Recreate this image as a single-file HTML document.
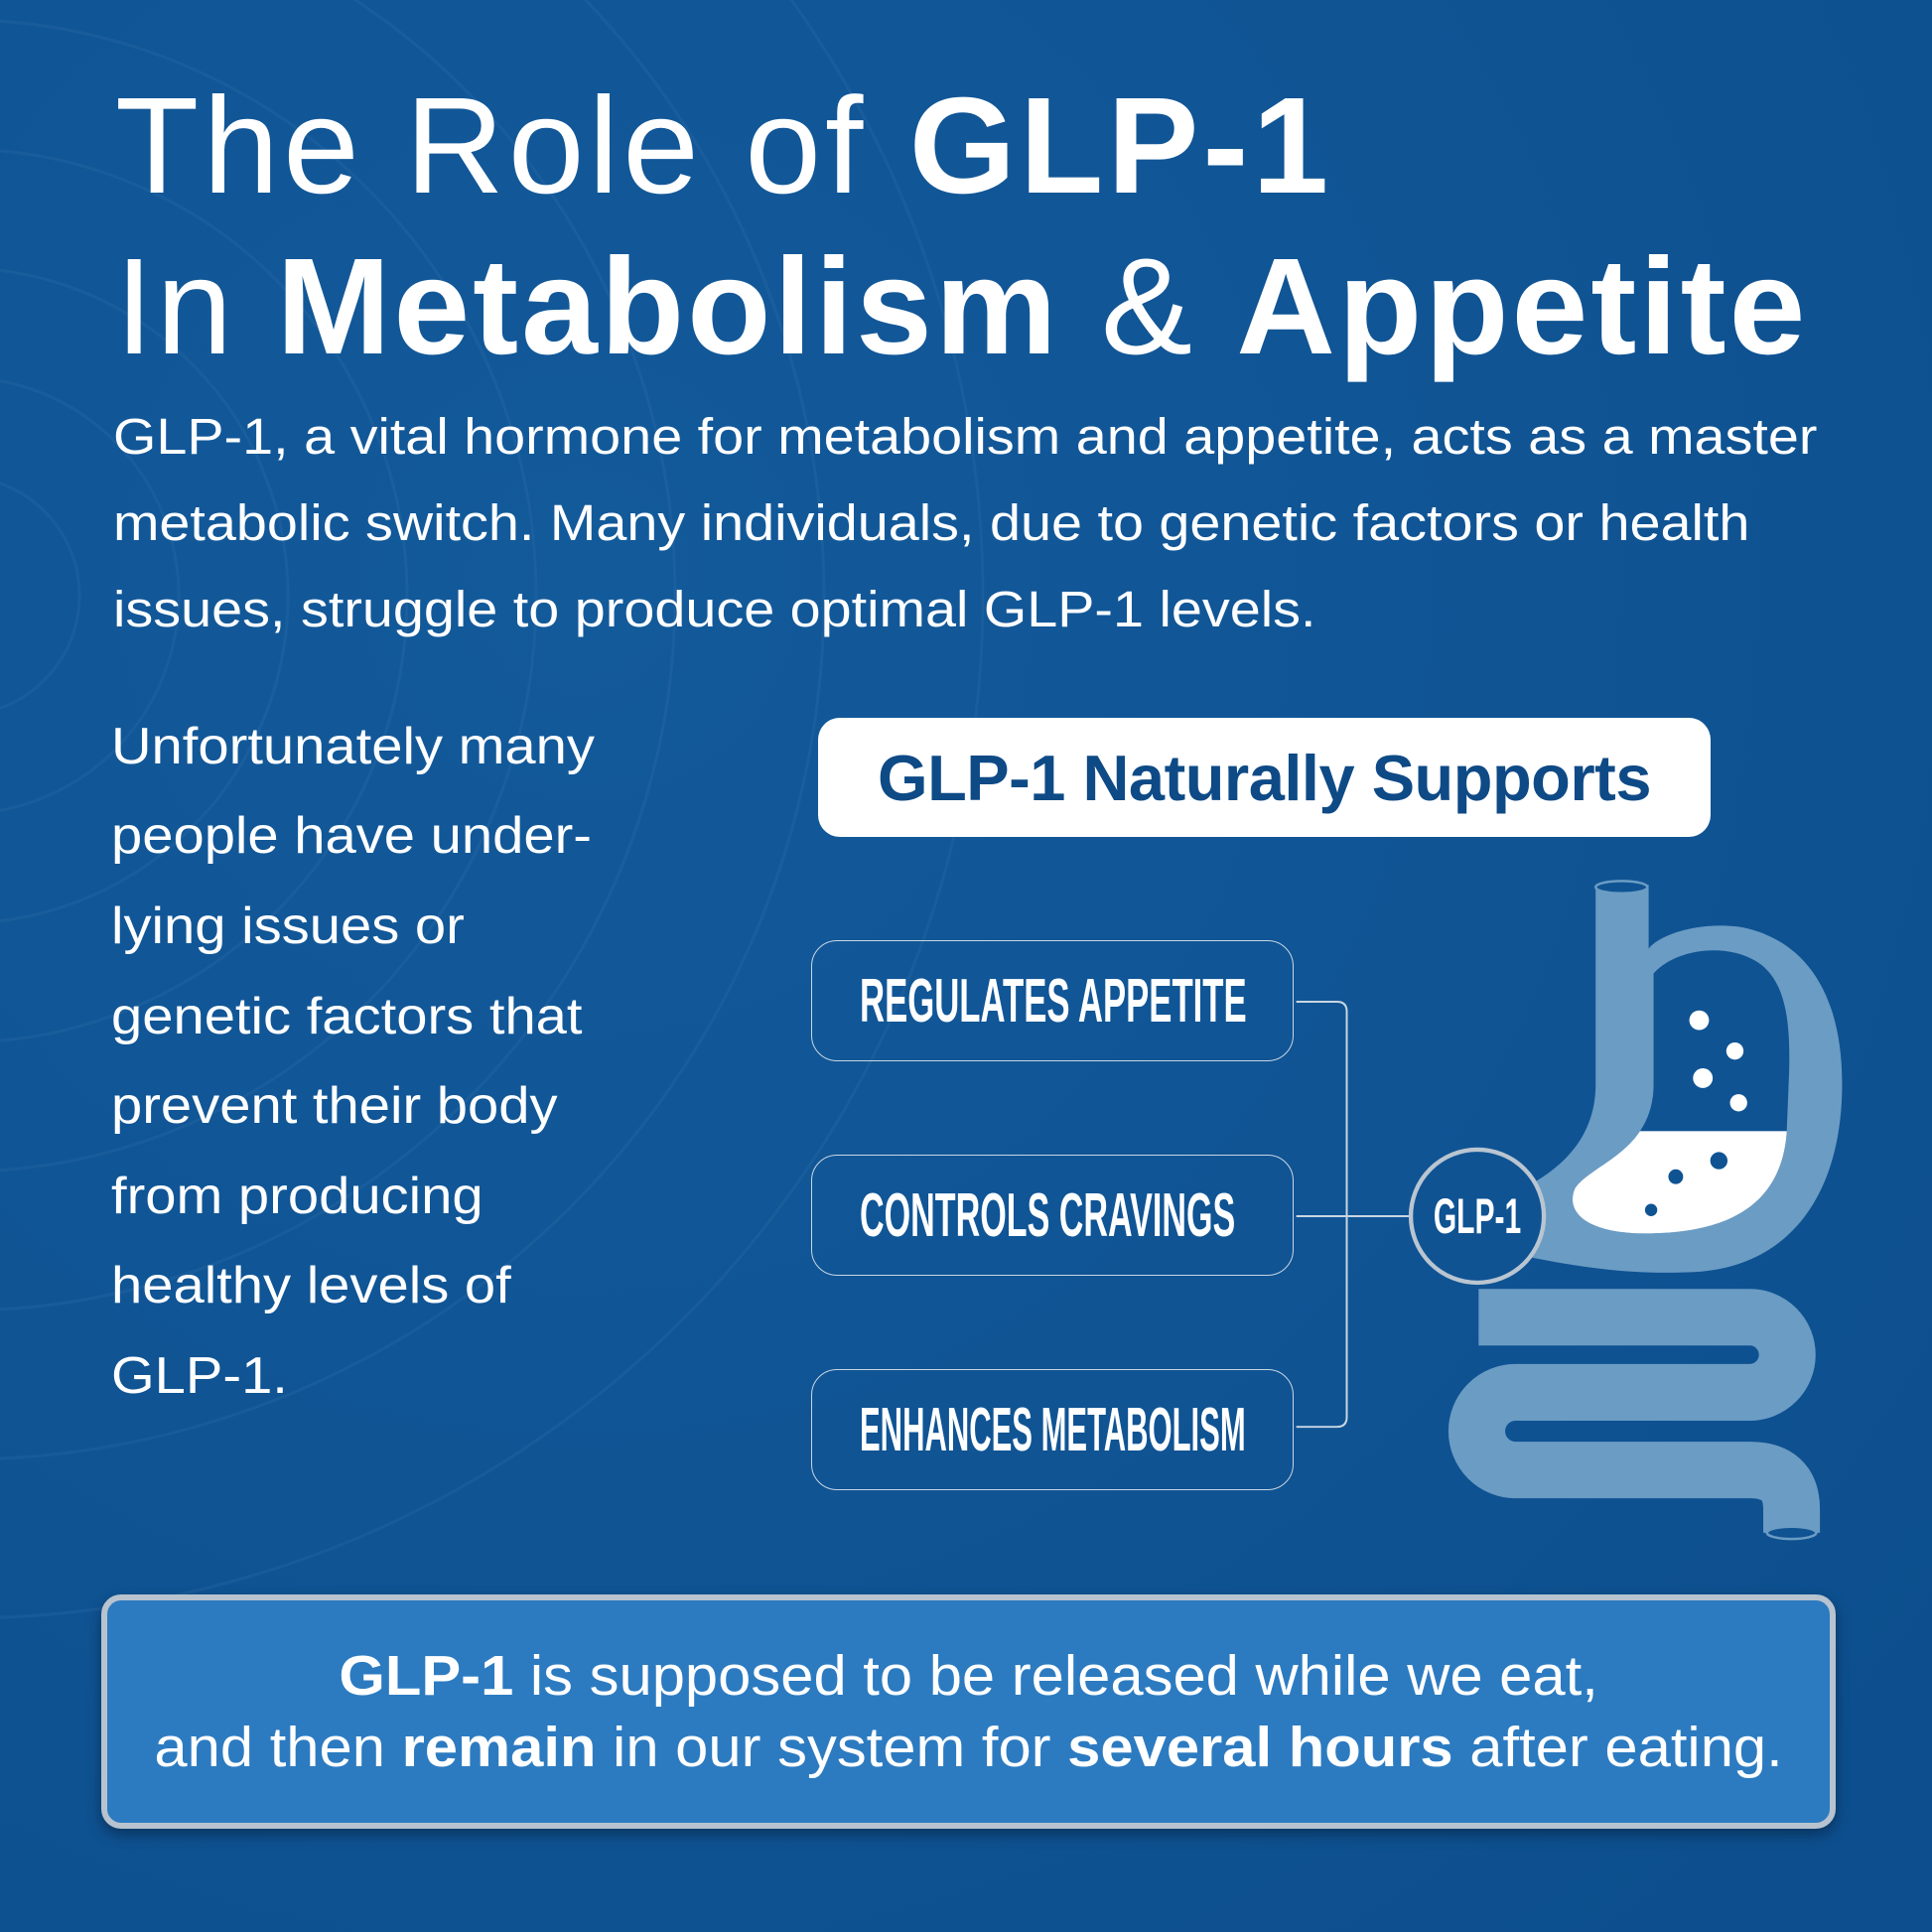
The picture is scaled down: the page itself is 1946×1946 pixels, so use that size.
<!DOCTYPE html>
<html><head><meta charset="utf-8"><style>
html,body{margin:0;padding:0}
body{width:1946px;height:1946px;position:relative;overflow:hidden;background:#0f5393;font-family:"Liberation Sans",sans-serif;color:#fff}
.a{position:absolute;white-space:nowrap}
.t{font-size:138px;line-height:1}
.b{font-weight:bold}
.p{font-size:51px;line-height:1;transform:scaleX(1.093);transform-origin:left top}
.l{font-size:52px;line-height:1;transform:scaleX(1.08);transform-origin:left top}
.pill{position:absolute;left:817px;width:486px;height:122px;border:1.5px solid #c9d6e3;border-radius:26px;box-sizing:border-box}
.pill span{position:absolute;left:48px;top:30px;font-weight:bold;font-size:62px;line-height:1;transform-origin:left top;white-space:nowrap}
</style></head><body>
<svg class="a" style="left:0;top:0" width="1946" height="1946">
<defs><radialGradient id="bg" cx="0.3" cy="0.3" r="0.9"><stop offset="0" stop-color="#135a9b"/><stop offset="1" stop-color="#0d4f8e"/></radialGradient></defs>
<rect width="1946" height="1946" fill="url(#bg)"/>
<g fill="none" stroke="#2a6aa6" stroke-opacity="0.35" stroke-width="3">
<circle cx="-40" cy="600" r="120"/><circle cx="-40" cy="600" r="220"/><circle cx="-40" cy="600" r="330"/><circle cx="-40" cy="600" r="450"/><circle cx="-40" cy="600" r="580"/><circle cx="-40" cy="600" r="720"/><circle cx="-40" cy="600" r="870"/><circle cx="-40" cy="600" r="1030"/>
</g>
<g transform="scale(1.2411)">
<defs><clipPath id="ci"><path d="M1342,790 C1360,770 1400,765 1425,780 C1450,795 1453,830 1452,870 L1450,920 C1445,980 1400,1000 1340,1001 C1290,1002 1270,985 1278,965 C1290,945 1342,935 1342,880 Z"/></clipPath></defs>
<path d="M1200,1069 L1420,1069 A30.5,30.5 0 0 1 1420,1130 L1230,1130 A31.5,31.5 0 0 0 1230,1193 L1420,1193 Q1454,1193 1454,1225 L1454,1244" fill="none" stroke="#6b9cc4" stroke-width="46"/>
<ellipse cx="1454" cy="1244" rx="20" ry="5" fill="#0f5393" stroke="#6b9cc4" stroke-width="2"/>
<path d="M1295,718 L1295,880 C1295,925 1265,950 1235,965 L1240,1020 C1290,1030 1330,1035 1380,1032 C1460,1025 1495,960 1495,880 C1495,800 1460,760 1410,752 C1375,748 1345,760 1338,770 L1338,718 Z" fill="#6b9cc4"/>
<ellipse cx="1316" cy="720" rx="21" ry="5" fill="#0f5393" stroke="#6b9cc4" stroke-width="2"/>
<path d="M1342,790 C1360,770 1400,765 1425,780 C1450,795 1453,830 1452,870 L1450,920 C1445,980 1400,1000 1340,1001 C1290,1002 1270,985 1278,965 C1290,945 1342,935 1342,880 Z" fill="#0f5393"/>
<rect x="1260" y="918" width="200" height="100" fill="#fff" clip-path="url(#ci)"/>
<g fill="#fff"><circle cx="1379" cy="828" r="8"/><circle cx="1408" cy="853" r="7"/><circle cx="1382" cy="875" r="8"/><circle cx="1411" cy="895" r="7"/></g>
<g fill="#0f5393"><circle cx="1395" cy="942" r="7"/><circle cx="1360" cy="955" r="6"/><circle cx="1340" cy="982" r="5"/></g>
<g fill="none" stroke="#c9d6e3" stroke-width="1.6">
<path d="M1052,813 L1085,813 Q1093,813 1093,821 L1093,1150 Q1093,1158 1085,1158 L1052,1158"/>
<path d="M1052,987 L1145,987"/>
</g>
<circle cx="1199" cy="987" r="54" fill="#0f5393" stroke="#b9c5d1" stroke-width="3.5"/>
</g>
</svg>
<div class="a t" style="left:116px;top:78px;letter-spacing:4px">The Role of <span class="b">GLP-1</span></div>
<div class="a t" style="left:116px;top:240px;letter-spacing:3px">In <span class="b">Metabolism</span> &amp; <span class="b">Appetite</span></div>
<div class="a p" style="left:114px;top:414px">GLP-1, a vital hormone for metabolism and appetite, acts as a master</div>
<div class="a p" style="left:114px;top:501px">metabolic switch. Many individuals, due to genetic factors or health</div>
<div class="a p" style="left:114px;top:588px">issues, struggle to produce optimal GLP-1 levels.</div>
<div class="a l" style="left:112px;top:726px">Unfortunately many</div>
<div class="a l" style="left:112px;top:816px">people have under-</div>
<div class="a l" style="left:112px;top:907px">lying issues or</div>
<div class="a l" style="left:112px;top:998px">genetic factors that</div>
<div class="a l" style="left:112px;top:1088px">prevent their body</div>
<div class="a l" style="left:112px;top:1179px">from producing</div>
<div class="a l" style="left:112px;top:1269px">healthy levels of</div>
<div class="a l" style="left:112px;top:1360px">GLP-1.</div>
<div class="a" style="left:824px;top:723px;width:899px;height:120px;background:#fff;border-radius:22px;color:#0e4a86;font-weight:bold;font-size:65px;text-align:center;line-height:122px;letter-spacing:-0.5px">GLP-1 Naturally Supports</div>
<div class="pill" style="top:947px"><span style="transform:scaleX(0.56)">REGULATES APPETITE</span></div>
<div class="pill" style="top:1163px"><span style="transform:scaleX(0.55)">CONTROLS CRAVINGS</span></div>
<div class="pill" style="top:1379px"><span style="transform:scaleX(0.5)">ENHANCES METABOLISM</span></div>
<div class="a" style="left:1488px;top:1225px;transform:translate(-50%,-50%) scaleX(0.6);font-weight:bold;font-size:50px;line-height:1">GLP-1</div>
<div class="a" style="left:102px;top:1606px;width:1747px;height:236px;box-sizing:border-box;border:6px solid #b7c3cf;border-radius:20px;background:#2c7bc1;box-shadow:0 6px 14px rgba(0,0,0,0.35)"></div>
<div class="a" style="left:102px;top:1652px;width:1747px;text-align:center;font-size:57px;line-height:72px">
<div style="display:inline-block;transform:scaleX(1.048)"><b>GLP-1</b> is supposed to be released while we eat,<br>and then <b>remain</b> in our system for <b>several hours</b> after eating.</div>
</div>
</body></html>
